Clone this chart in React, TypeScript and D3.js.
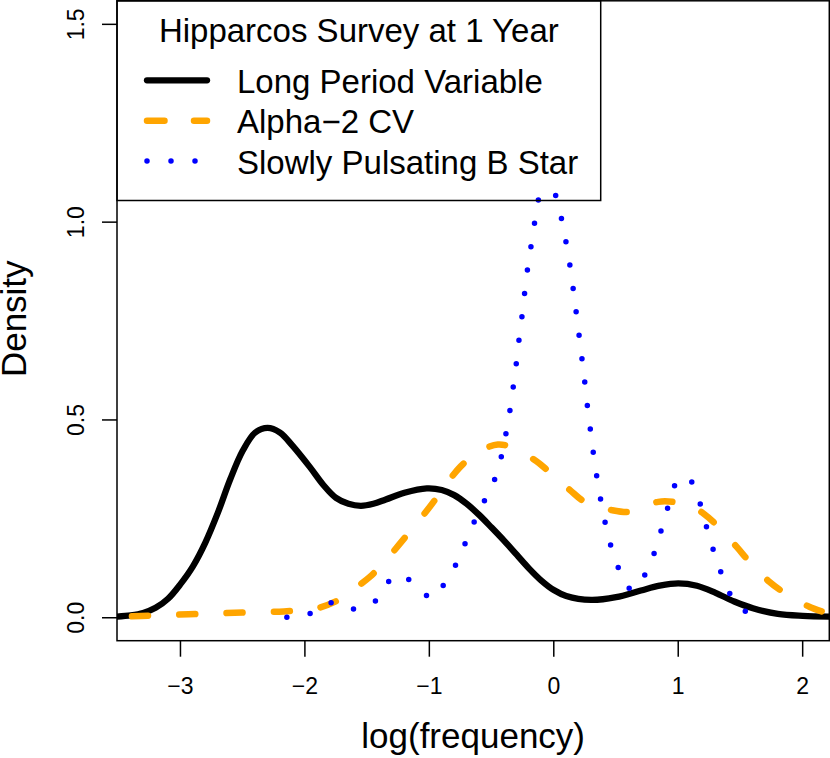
import React from "react";
import * as d3 from "d3";

// ---- Data ----
const lpvX = [-3.51, -3.4, -3.3, -3.2, -3.1, -3.0, -2.9, -2.8, -2.7, -2.6, -2.5, -2.4, -2.3, -2.2, -2.1, -1.958, -1.85, -1.75, -1.65, -1.55, -1.45, -1.35, -1.2, -1.02, -0.9, -0.8, -0.7, -0.6, -0.5, -0.4, -0.3, -0.2, -0.1, 0.0, 0.1, 0.3, 0.5, 0.7, 0.85, 1.0, 1.15, 1.3, 1.45, 1.6, 1.8, 2.0, 2.214];
const lpvY = [0.003, 0.006, 0.012, 0.025, 0.048, 0.085, 0.13, 0.19, 0.265, 0.35, 0.422, 0.468, 0.48, 0.468, 0.435, 0.38, 0.335, 0.303, 0.288, 0.283, 0.288, 0.299, 0.316, 0.327, 0.323, 0.31, 0.288, 0.26, 0.228, 0.195, 0.16, 0.125, 0.094, 0.07, 0.055, 0.045, 0.052, 0.069, 0.081, 0.087, 0.081, 0.063, 0.041, 0.024, 0.01, 0.005, 0.003];

const a2cvX = [-3.51, -3.2, -2.8, -2.4, -2.17, -2.0, -1.9, -1.73, -1.635, -1.476, -1.35, -1.235, -1.007, -0.75, -0.6, -0.45, -0.353, -0.16, -0.037, 0.129, 0.25, 0.465, 0.625, 0.839, 1.0, 1.1, 1.201, 1.322, 1.47, 1.571, 1.732, 1.858, 2.053, 2.214];
const a2cvY = [0.002, 0.006, 0.01, 0.014, 0.016, 0.02, 0.024, 0.045, 0.066, 0.104, 0.145, 0.188, 0.276, 0.382, 0.42, 0.438, 0.432, 0.4, 0.369, 0.323, 0.293, 0.272, 0.268, 0.293, 0.291, 0.282, 0.264, 0.23, 0.179, 0.142, 0.091, 0.062, 0.028, 0.01];

const spbX = [-2.145, -1.958, -1.784, -1.62, -1.438, -1.328, -1.25, -1.173, -1.031, -0.97, -0.878, -0.779, -0.704, -0.63, -0.546, -0.465, -0.415, -0.379, -0.347, -0.321, -0.297, -0.275, -0.251, -0.23, -0.206, -0.176, -0.146, -0.104, -0.047, 0.003, 0.057, 0.095, 0.127, 0.154, 0.178, 0.202, 0.226, 0.248, 0.269, 0.293, 0.317, 0.345, 0.377, 0.414, 0.459, 0.521, 0.63, 0.754, 0.821, 0.875, 0.931, 0.998, 1.05, 1.121, 1.183, 1.234, 1.288, 1.352, 1.43, 1.557];
const spbY = [0.001, 0.011, 0.038, 0.022, 0.041, 0.091, 0.108, 0.098, 0.058, 0.05, 0.087, 0.139, 0.194, 0.249, 0.303, 0.358, 0.416, 0.475, 0.535, 0.595, 0.654, 0.715, 0.773, 0.833, 0.893, 0.953, 1.013, 1.071, 1.077, 1.073, 1.015, 0.955, 0.896, 0.836, 0.777, 0.717, 0.656, 0.598, 0.538, 0.478, 0.418, 0.358, 0.298, 0.239, 0.181, 0.125, 0.07, 0.121, 0.177, 0.234, 0.293, 0.35, 0.356, 0.338, 0.281, 0.222, 0.165, 0.108, 0.053, 0.011];

const xTicks = [-3, -2, -1, 0, 1, 2];
const yTicks = [0, 0.5, 1, 1.5];
const yTickLabels = ["0.0", "0.5", "1.0", "1.5"];

const legendTitle = "Hipparcos Survey at 1 Year";
const seriesNames = ["Long Period Variable", "Alpha\u22122 CV", "Slowly Pulsating B Star"];
const seriesColors = ["#000000", "#FFA500", "#0000FF"];

const FONT = "'Liberation Sans', Arial, Helvetica, sans-serif";

export default function App() {
  const W = 830, H = 758;
  const left = 117, right = 829.3, top = 0.8, bottom = 640.7;
  const x = d3.scaleLinear().domain([-3.51, 2.214]).range([left, right]);
  const y = d3.scaleLinear().domain([-0.058, 1.5595]).range([bottom, top]);

  const mk = (xs: number[], ys: number[]) =>
    d3.line<number>().x((_, i) => x(xs[i])).y((d) => y(d)).curve(d3.curveCatmullRom.alpha(0.5))(ys) || "";

  const lpvPath = mk(lpvX, lpvY);
  const a2Path = mk(a2cvX, a2cvY);
  const spbPath = mk(spbX, spbY);

  const fmt = (v: number) => (v < 0 ? "\u2212" + Math.abs(v) : String(v));

  const legRight = 600.7, legBottom = 200.5;
  const legLineX1 = 147, legLineX2 = 207;
  const rowY = [80.3, 120.7, 161];

  return (
    <svg width={W} height={H} style={{ position: "absolute", left: 0, top: 0, background: "#fff" }} fontFamily={FONT}>
      <defs>
        <clipPath id="plotclip">
          <rect x={left} y={top} width={right - left} height={bottom - top} />
        </clipPath>
      </defs>
      <rect x={0} y={0} width={W} height={H} fill="#fff" />

      {/* curves */}
      <g clipPath="url(#plotclip)" fill="none">
        <path d={lpvPath} stroke={seriesColors[0]} strokeWidth={6.3} strokeLinecap="round" strokeLinejoin="round" />
        <path d={a2Path} stroke={seriesColors[1]} strokeWidth={6.5} strokeLinecap="round" strokeDasharray="16 31.3" strokeDashoffset={32.3} />
        <path d={spbPath} stroke={seriesColors[2]} strokeWidth={5.5} strokeLinecap="round" strokeDasharray="0 23.6" />
      </g>

      {/* plot box */}
      <rect x={left} y={top} width={right - left} height={bottom - top} fill="none" stroke="#000" strokeWidth={1.5} />

      {/* x axis */}
      <g>
        {xTicks.map((t) => (
          <g key={t}>
            <line x1={x(t)} x2={x(t)} y1={bottom} y2={bottom + 16} stroke="#000" strokeWidth={1.5} />
            <text x={x(t)} y={693.5} fontSize={23} textAnchor="middle">{fmt(t)}</text>
          </g>
        ))}
      </g>
      {/* y axis */}
      <g>
        {yTicks.map((t, i) => (
          <g key={t}>
            <line x1={left - 15} x2={left} y1={y(t)} y2={y(t)} stroke="#000" strokeWidth={1.5} />
            <text transform={`translate(84,${y(t)}) rotate(-90)`} fontSize={23} textAnchor="middle">{yTickLabels[i]}</text>
          </g>
        ))}
      </g>

      {/* axis titles */}
      <text x={(left + right) / 2} y={748} fontSize={35} textAnchor="middle">log(frequency)</text>
      <text transform={`translate(26,${(top + bottom) / 2 - 2}) rotate(-90)`} fontSize={35} textAnchor="middle">Density</text>

      {/* legend */}
      <rect x={left} y={top} width={legRight - left} height={legBottom - top} fill="none" stroke="#000" strokeWidth={1.5} />
      <text x={(left + legRight) / 2} y={41.7} fontSize={33} textAnchor="middle">{legendTitle}</text>
      <line x1={legLineX1} x2={legLineX2} y1={rowY[0]} y2={rowY[0]} stroke={seriesColors[0]} strokeWidth={6.3} strokeLinecap="round" />
      <line x1={legLineX1} x2={legLineX2} y1={rowY[1]} y2={rowY[1]} stroke={seriesColors[1]} strokeWidth={6.5} strokeLinecap="round" strokeDasharray="17.5 29.5" />
      <line x1={legLineX1} x2={legLineX2 + 1} y1={rowY[2]} y2={rowY[2]} stroke={seriesColors[2]} strokeWidth={5.5} strokeLinecap="round" strokeDasharray="0 24" />
      {seriesNames.map((n, i) => (
        <text key={n} x={237} y={rowY[i] + 12.5} fontSize={33}>{n}</text>
      ))}
    </svg>
  );
}
